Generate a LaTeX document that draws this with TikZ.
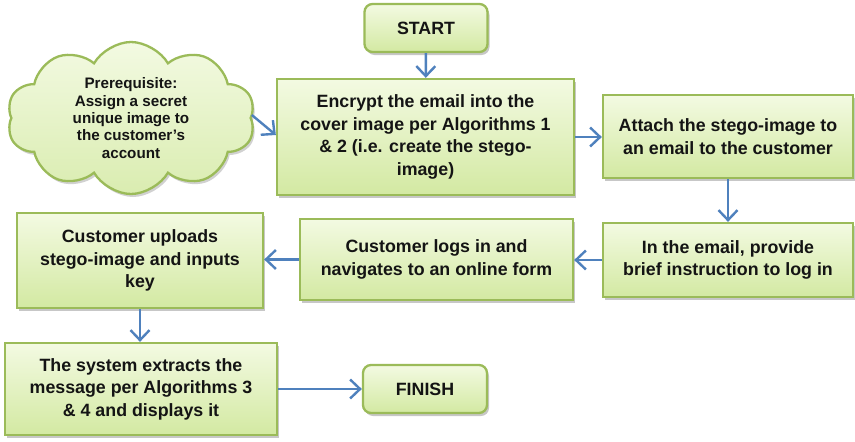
\documentclass[tikz,border=0pt]{standalone}
\usepackage{fontspec}
\setmainfont{Liberation Sans}
\usetikzlibrary{arrows.meta,shapes.symbols,shadows}

\definecolor{boxedge}{HTML}{9BBB59}
\definecolor{filltop}{HTML}{F3FAE2}
\definecolor{fillbot}{HTML}{D3E9A2}
\definecolor{arrowblue}{HTML}{4F81BD}
\definecolor{ink}{HTML}{141414}

\tikzset{
  stepbox/.style={draw=boxedge, line width=2.3pt, top color=filltop, bottom color=fillbot,
    text=ink, align=center, inner sep=2pt,
    font=\bfseries\fontsize{17.8}{22.5}\selectfont,
    drop shadow={shadow xshift=2pt, shadow yshift=-3pt, opacity=0.22, fill=black}},
  termbox/.style={stepbox, rounded corners=8pt},
  note/.style={cloud, cloud puffs=10, cloud puff arc=120, aspect=1.65,
    draw=boxedge, line width=2.3pt, top color=filltop, bottom color=fillbot!85!white,
    text=ink, align=center, inner sep=0pt,
    font=\bfseries\fontsize{15.2}{17.3}\selectfont,
    drop shadow={shadow xshift=2pt, shadow yshift=-3pt, opacity=0.18, fill=black}},
  flow/.style={draw=arrowblue, line width=2.4pt,
    -{Straight Barb[length=10pt,width=19pt,line width=2.4pt]}}
}

\begin{document}
\begin{tikzpicture}[x=1pt,y=-1pt]
  \useasboundingbox[fill=white] (0,0) rectangle (855,442);

  % terminals
  \node[termbox, minimum width=123pt, minimum height=48pt] (start) at (426,28) {START};
  \node[termbox, minimum width=124pt, minimum height=48pt] (finish) at (425,389) {FINISH};

  % process steps
  \node[stepbox, minimum width=297pt, minimum height=116pt] (encrypt) at (425.5,137)
    {Encrypt the email into the\\cover image per Algorithms 1\\\& 2 (i.e. create the stego-\\image)};
  \node[stepbox, minimum width=250pt, minimum height=83pt] (attach) at (728,136.5)
    {Attach the stego-image to\\an email to the customer};
  \node[stepbox, minimum width=250pt, minimum height=74pt] (instruct) at (728,260)
    {In the email, provide\\brief instruction to log in};
  \node[stepbox, minimum width=273pt, minimum height=81pt] (login) at (436.5,259.5)
    {Customer logs in and\\navigates to an online form};
  \node[stepbox, minimum width=246pt, minimum height=95pt] (upload) at (140,260.5)
    {Customer uploads\\stego-image and inputs\\key};
  \node[stepbox, minimum width=272pt, minimum height=92pt] (extract) at (141,389)
    {The system extracts the\\message per Algorithms 3\\\& 4 and displays it};

  % prerequisite cloud
  \node[note, minimum width=248pt, minimum height=152pt] (prereq) at (131,118)
    {Prerequisite:\\Assign a secret\\unique image to\\the customer's\\account};

  % connectors
  \draw[flow] (start) -- (encrypt);
  \draw[flow] ([yshift=3pt]prereq.east) -- ([yshift=2pt]encrypt.west);
  \draw[flow] (encrypt) -- (encrypt -| attach.west);
  \draw[flow] (attach) -- (instruct);
  \draw[flow] (instruct) -- (instruct -| login.east);
  \draw[flow] (login) -- (login -| upload.east);
  \draw[flow] (upload) -- (upload |- extract.north);
  \draw[flow] (extract) -- (finish);
\end{tikzpicture}
\end{document}
